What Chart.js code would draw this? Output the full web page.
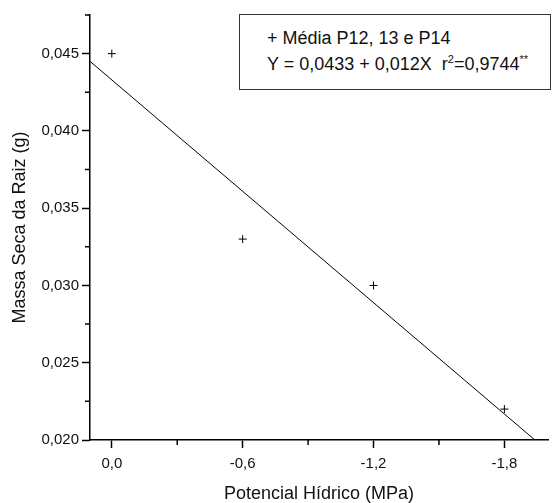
<!DOCTYPE html>
<html>
<head>
<meta charset="utf-8">
<script src="https://cdn.jsdelivr.net/npm/chart.js@4/dist/chart.umd.min.js"></script>
<style>
  body { margin: 0; background: #fff; }
  #wrap { position: relative; width: 553px; height: 503px; }
  #legendBox {
    position: absolute; left: 239px; top: 14px; width: 310px; height: 74px;
    border: 1.5px solid #333; background: #fff;
    font-family: "Liberation Sans", Arial, sans-serif; font-size: 18px; color: #111;
  }
  #legendBox div { position: absolute; left: 27px; white-space: nowrap; line-height: 26px; }
  #legendBox sup { font-size: 11px; vertical-align: 7px; line-height: 0; }
</style>
</head>
<body>
<div id="wrap">
  <canvas id="chart" width="553" height="503"></canvas>
  <div id="legendBox">
    <div style="top:10px">+ Média P12, 13 e P14</div>
    <div style="top:36px">Y = 0,0433 + 0,012X&nbsp; r<sup>2</sup>=0,9744<sup>**</sup></div>
  </div>
</div>
<script>
// observed means
const xValues = [0, -0.6, -1.2, -1.8];
const yValues = [0.045, 0.033, 0.030, 0.022];

// fitted line, ends
const fitX = [0.1, -1.94];
const fitY = [0.0445, 0.020];

// axis ticks
const xTickValues = [0, -0.3, -0.6, -0.9, -1.2, -1.5, -1.8];
const xTickLabels = ['0,0', '', '-0,6', '', '-1,2', '', '-1,8'];
const yTickValues = [0.020, 0.0225, 0.025, 0.0275, 0.030, 0.0325, 0.035, 0.0375, 0.040, 0.0425, 0.045, 0.0475];
const yTickLabels = ['0,020', '', '0,025', '', '0,030', '', '0,035', '', '0,040', '', '0,045', ''];

const FONT = '"Liberation Sans", Arial, sans-serif';

const isMajor = (labels, i) => labels[i] !== '';

// short minor ticks (library grid draws the long ones)
const minorTicks = {
    id: 'minorTicks',
    afterDraw(chart) {
        const ctx = chart.ctx;
        const xs = chart.scales.x, ys = chart.scales.y;
        ctx.save();
        ctx.strokeStyle = '#000';
        ctx.lineWidth = 1.5;
        ctx.beginPath();
        xTickValues.forEach((v, i) => {
            if (isMajor(xTickLabels, i)) return;
            const px = xs.getPixelForValue(v);
            ctx.moveTo(px, xs.top);
            ctx.lineTo(px, xs.top + 5);
        });
        yTickValues.forEach((v, i) => {
            if (isMajor(yTickLabels, i)) return;
            const py = ys.getPixelForValue(v);
            ctx.moveTo(ys.right, py);
            ctx.lineTo(ys.right - 5, py);
        });
        ctx.stroke();
        ctx.restore();
    }
};

new Chart(document.getElementById('chart'), {
    type: 'scatter',
    data: {
        datasets: [
            {
                data: xValues.map((x, i) => ({ x, y: yValues[i] })),
                pointStyle: 'cross',
                pointRadius: 4,
                borderColor: '#000',
                borderWidth: 1,
                showLine: false
            },
            {
                data: fitX.map((x, i) => ({ x, y: fitY[i] })),
                showLine: true,
                pointRadius: 0,
                borderColor: '#000',
                borderWidth: 1
            }
        ]
    },
    options: {
        responsive: false,
        animation: false,
        layout: { padding: { top: 15, right: 5, left: 0, bottom: 0 } },
        plugins: { legend: { display: false }, tooltip: { enabled: false } },
        scales: {
            x: {
                type: 'linear',
                reverse: true,
                min: -2.0,
                max: 0.1,
                afterBuildTicks: s => { s.ticks = xTickValues.map(v => ({ value: v })); },
                afterFit: s => { s.height = 63; },
                ticks: {
                    autoSkip: false,
                    maxRotation: 0,
                    padding: 7,
                    color: '#111',
                    font: { family: FONT, size: 15 },
                    callback: (v, i) => xTickLabels[i]
                },
                grid: {
                    drawOnChartArea: false,
                    tickLength: 8,
                    tickWidth: 1.5,
                    tickColor: c => isMajor(xTickLabels, c.index) ? '#000' : 'rgba(0,0,0,0)'
                },
                border: { display: true, color: '#000', width: 1.5 },
                title: {
                    display: true,
                    text: 'Potencial Hídrico (MPa)',
                    color: '#111',
                    font: { family: FONT, size: 18, lineHeight: 1 },
                    padding: { top: 0, bottom: 0 }
                }
            },
            y: {
                type: 'linear',
                min: 0.020,
                max: 0.0475,
                afterBuildTicks: s => { s.ticks = yTickValues.map(v => ({ value: v })); },
                afterFit: s => { s.width = 90; },
                ticks: {
                    autoSkip: false,
                    padding: 3,
                    color: '#111',
                    font: { family: FONT, size: 15 },
                    callback: (v, i) => yTickLabels[i]
                },
                grid: {
                    drawOnChartArea: false,
                    tickLength: 8,
                    tickWidth: 1.5,
                    tickColor: c => isMajor(yTickLabels, c.index) ? '#000' : 'rgba(0,0,0,0)'
                },
                border: { display: true, color: '#000', width: 1.5 },
                title: {
                    display: true,
                    text: 'Massa Seca da Raiz (g)',
                    color: '#111',
                    font: { family: FONT, size: 18, lineHeight: 1 },
                    padding: { top: 11, bottom: 0 }
                }
            }
        }
    },
    plugins: [minorTicks]
});
</script>
</body>
</html>
